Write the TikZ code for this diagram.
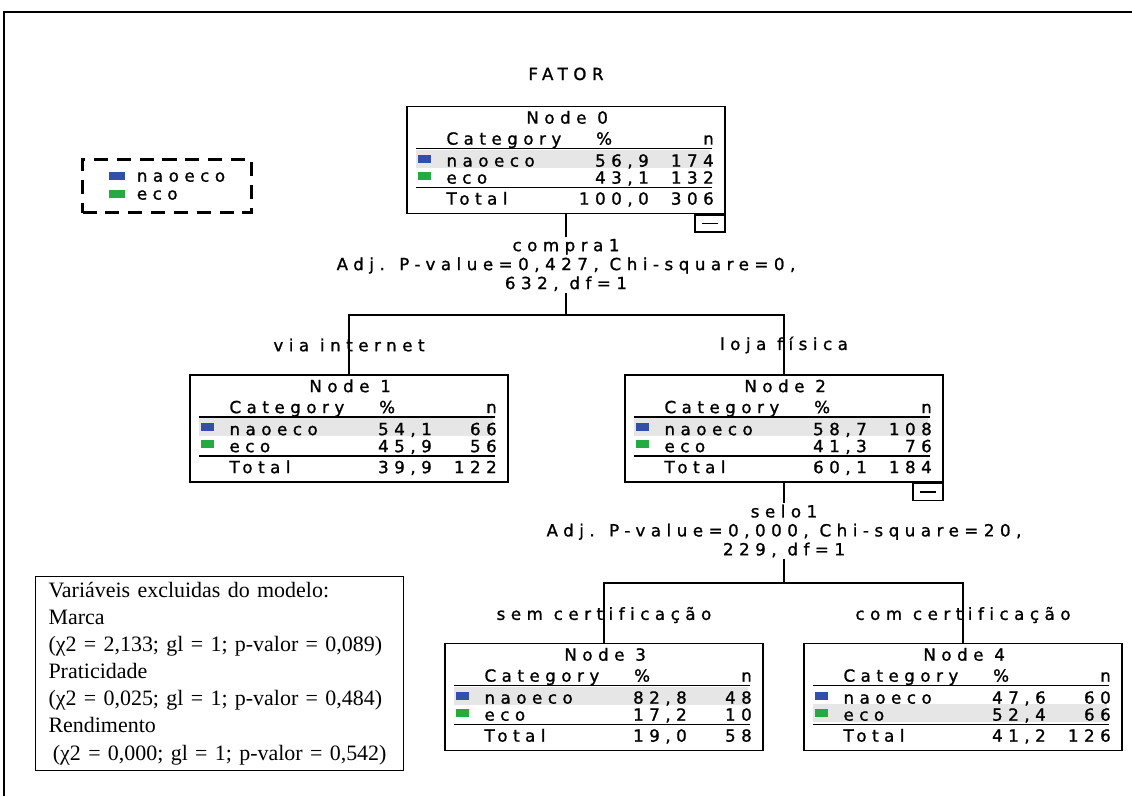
\documentclass[tikz,border=0pt]{standalone}
\usepackage{fontspec}
\setmainfont{Liberation Serif}
\newfontfamily\spssfont[LetterSpace=33,FakeBold=1.2,Ligatures=CommonOff]{DejaVu Sans}
\usepackage{xcolor}
\usetikzlibrary{positioning}

\definecolor{naoblue}{RGB}{50,80,170}
\definecolor{ecogreen}{RGB}{35,170,65}
\definecolor{rowgray}{RGB}{230,230,230}

% tree node: number, centre, modal row (1 or 2), then % and n of naoeco, eco, total
\newcommand{\treenode}[9]{%
  \node (n#1) [treebox] at (#2) {};
  \begin{scope}[shift={(n#1.north west)}]
    \fill [rowgray] (10,{27+17*#3}) rectangle (304,{45+17*#3});
    \node (n#1-head) [cell, anchor=base] at (161,18) {Node #1};
    \node (n#1-cat) [cell, anchor=base west] at (40,39) {Category};
    \node (n#1-pc) [cell, anchor=base] at (198,39) {\%};
    \node (n#1-n) [cell, anchor=base east] at (308,39) {n};
    \draw [rule] (10,43) -- (306,43);
    \fill [naoblue] (12,49) rectangle (25,57);
    \node (n#1-a) [cell, anchor=base west] at (40,61) {naoeco};
    \node (n#1-ap) [cell, anchor=base east] at (243,61) {#4};
    \node (n#1-an) [cell, anchor=base east] at (308,61) {#5};
    \fill [ecogreen] (12,66) rectangle (25,74);
    \node (n#1-b) [cell, anchor=base west] at (40,78) {eco};
    \node (n#1-bp) [cell, anchor=base east] at (243,78) {#6};
    \node (n#1-bn) [cell, anchor=base east] at (308,78) {#7};
    \draw [rule] (10,82) -- (306,82);
    \node (n#1-t) [cell, anchor=base west] at (40,99) {Total};
    \node (n#1-tp) [cell, anchor=base east] at (243,99) {#8};
    \node (n#1-tn) [cell, anchor=base east] at (308,99) {#9};
  \end{scope}}

\newcommand{\legsq}[1]{\textcolor{#1}{\rule[0.04cm]{0.32cm}{0.15cm}}\hspace{0.24cm}}

\begin{document}
\begin{tikzpicture}[
      x=0.02cm, y=-0.02cm,
      treebox/.style={draw, line width=1pt, minimum width=6.36cm, minimum height=2.14cm, inner sep=0pt},
      cell/.style={font=\spssfont\fontsize{9.5}{10}\selectfont, inner sep=0pt},
      rule/.style={line width=0.8pt},
      split/.style={font=\spssfont\fontsize{9.5}{10.8}\selectfont, align=center, inner sep=1pt},
      branch/.style={font=\spssfont\fontsize{9.5}{10}\selectfont, inner sep=1pt},
      edge/.style={line width=1pt},
      minus/.style={draw, line width=0.9pt, minimum width=0.6cm, minimum height=0.34cm, inner sep=0pt,
        path picture={\draw [line width=0.8pt] ([xshift=-0.16cm]path picture bounding box.center)
          -- ([xshift=0.16cm]path picture bounding box.center);}},
      legendbox/.style={draw, line width=1.4pt, dash pattern=on 8pt off 5pt, align=left,
        font=\spssfont\fontsize{9.5}{10.2}\selectfont, minimum width=3.38cm, minimum height=1.06cm},
      exclbox/.style={draw, line width=0.6pt, align=left, anchor=north west, text width=6.84cm,
        inner xsep=0.26cm, minimum height=3.8cm, font=\fontsize{12.5}{15.4}\selectfont},
    ]
    \useasboundingbox (0,0) rectangle (1132,796);

    % frame
    \draw [line width=1.4pt] (4,796) -- (4,12) -- (1132,12);

    % legend and title
    \node (leg) [legendbox] at (167,186) {\legsq{naoblue}naoeco\\\legsq{ecogreen}eco};
    \node (fator) [cell, anchor=base] at (566,80) {FATOR};

    % tree nodes
    \treenode{0}{566,160}{1}{56,9}{174}{43,1}{132}{100,0}{306}
    \treenode{1}{349,428.5}{1}{54,1}{66}{45,9}{56}{39,9}{122}
    \treenode{2}{784,428.5}{1}{58,7}{108}{41,3}{76}{60,1}{184}
    \treenode{3}{604,697}{1}{82,8}{48}{17,2}{10}{19,0}{58}
    \treenode{4}{963,697}{2}{47,6}{60}{52,4}{66}{41,2}{126}
    \node (m0) [minus, anchor=north east] at (n0.south east) {};
    \node (m2) [minus, anchor=north east] at (n2.south east) {};

    % first split
    \node (s0) [split] at (566,265) {compra1\\Adj. P-value=0,427, Chi-square=0,\\632, df=1};
    \coordinate (j0) at (566,315);
    \draw [edge] (n0) -- (s0);
    \draw [edge] (s0) -- (j0);
    \draw [edge] (n1.north) |- (j0) -| (n2.north);
    \node (b1) [branch] at (349,345) {via internet};
    \node (b2) [branch] at (784,345) {loja física};

    % second split
    \node (s2) [split] at (784,531) {selo1\\Adj. P-value=0,000, Chi-square=20,\\229, df=1};
    \coordinate (j2) at (784,583);
    \draw [edge] (n2) -- (s2);
    \draw [edge] (s2) -- (j2);
    \draw [edge] (n3.north) |- (j2) -| (n4.north);
    \node (b3) [branch] at (604,615) {sem certificação};
    \node (b4) [branch] at (963,615) {com certificação};

    % excluded variables
    \node (excl) [exclbox] at (35,576) {Variáveis excluidas do modelo:\\Marca\\(χ2 = 2,133; gl = 1; p-valor = 0,089)\\Praticidade\\(χ2 = 0,025; gl = 1; p-valor = 0,484)\\Rendimento\\\hspace{0.2em}(χ2 = 0,000; gl = 1; p-valor = 0,542)};
  \end{tikzpicture}
\end{document}
